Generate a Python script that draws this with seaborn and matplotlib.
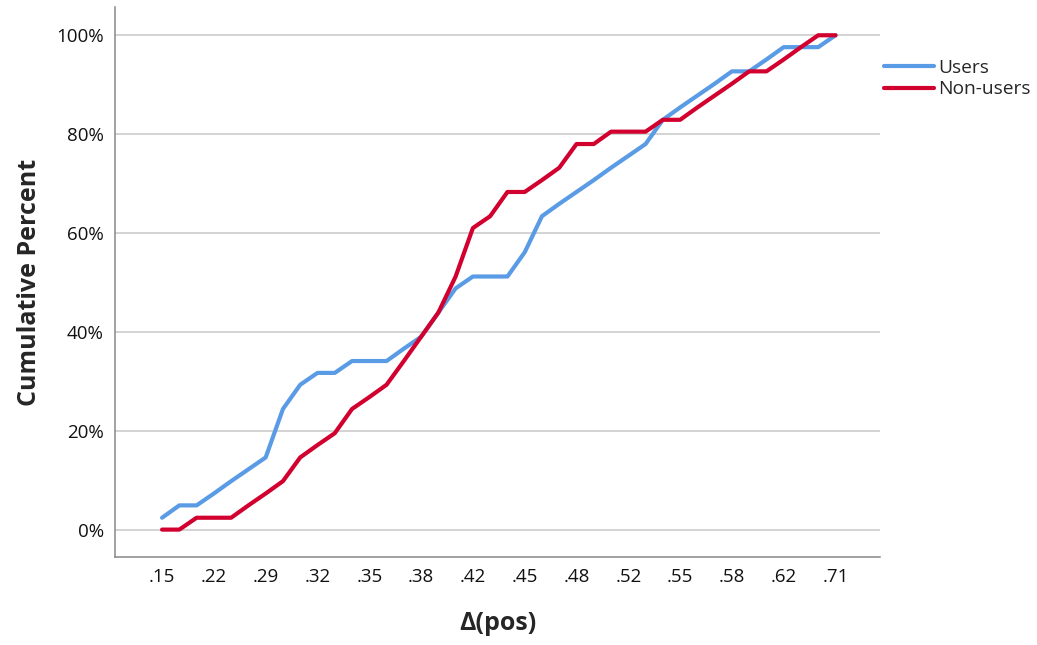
import numpy as np
import pandas as pd
import matplotlib
matplotlib.use("Agg")
import matplotlib.pyplot as plt
import seaborn as sns

# ------------------- data -------------------
delta_labels = [".15", ".17", ".20", ".22", ".25", ".27", ".29", ".30", ".31", ".32",
                ".33", ".34", ".35", ".36", ".37", ".38", ".39", ".40", ".42", ".43",
                ".44", ".45", ".46", ".47", ".48", ".49", ".50", ".52", ".53", ".54",
                ".55", ".56", ".57", ".58", ".59", ".60", ".62", ".65", ".68", ".71"]

users_pct = [2.4, 4.9, 4.9, 7.3, 9.8, 12.2, 14.6, 24.4, 29.3, 31.7,
             31.7, 34.1, 34.1, 34.1, 36.6, 39.0, 43.9, 48.8, 51.2, 51.2,
             51.2, 56.1, 63.4, 65.9, 68.3, 70.7, 73.2, 75.6, 78.0, 82.9,
             85.4, 87.8, 90.2, 92.7, 92.7, 95.1, 97.6, 97.6, 97.6, 100.0]

nonusers_pct = [0.0, 0.0, 2.4, 2.4, 2.4, 4.9, 7.3, 9.8, 14.6, 17.1,
                19.5, 24.4, 26.8, 29.3, 34.1, 39.0, 43.9, 51.2, 61.0, 63.4,
                68.3, 68.3, 70.7, 73.2, 78.0, 78.0, 80.5, 80.5, 80.5, 82.9,
                82.9, 85.4, 87.8, 90.2, 92.7, 92.7, 95.1, 97.6, 100.0, 100.0]

groups = ["Users", "Non-users"]
shown_ticks = [".15", ".22", ".29", ".32", ".35", ".38", ".42", ".45", ".48",
               ".52", ".55", ".58", ".62", ".71"]

# ------------------- long table -------------------
pos = np.arange(len(delta_labels))
df = pd.concat([
    pd.DataFrame({"pos": pos, "pct": users_pct, "group": groups[0]}),
    pd.DataFrame({"pos": pos, "pct": nonusers_pct, "group": groups[1]}),
], ignore_index=True)

# ------------------- plot -------------------
sns.set_style("white")
plt.rcParams["font.family"] = ["Open Sans", "DejaVu Sans"]

fig = plt.figure(figsize=(10.37, 6.45), dpi=100)
ax = fig.add_axes([0.111, 0.136, 0.738, 0.853])

sns.lineplot(data=df, x="pos", y="pct", hue="group", hue_order=groups,
             palette={"Users": "#5a9be6", "Non-users": "#d2002f"},
             linewidth=3, ax=ax, legend=True)

ax.set_xlim(-2.72, 41.6)
ax.set_ylim(-5.6, 105.7)

ax.set_yticks([0, 20, 40, 60, 80, 100])
ax.set_yticklabels([f"{v}%" for v in [0, 20, 40, 60, 80, 100]])
ax.set_xticks([delta_labels.index(t) for t in shown_ticks])
ax.set_xticklabels(shown_ticks)
ax.tick_params(axis="both", length=0, labelsize=13.5, colors="#111111", pad=8)

ax.yaxis.grid(True, color="#c8c8c8", linewidth=1.1)
ax.xaxis.grid(False)
ax.set_axisbelow(True)

for side in ["top", "right"]:
    ax.spines[side].set_visible(False)
for side in ["left", "bottom"]:
    ax.spines[side].set_color("#888888")
    ax.spines[side].set_linewidth(1.1)

ax.set_xlabel("Δ(pos)", fontsize=18, fontweight="bold", labelpad=18)
ax.set_ylabel("Cumulative Percent", fontsize=18, fontweight="bold", labelpad=10)

leg = ax.legend(loc="upper left", bbox_to_anchor=(1.002, 0.91), frameon=False,
                fontsize=13.8, handlelength=2.6, handletextpad=0.25,
                labelspacing=0.2, borderaxespad=0.0, borderpad=0.1)
for line in leg.get_lines():
    line.set_linewidth(3)

fig.savefig("out.png", dpi=100)
